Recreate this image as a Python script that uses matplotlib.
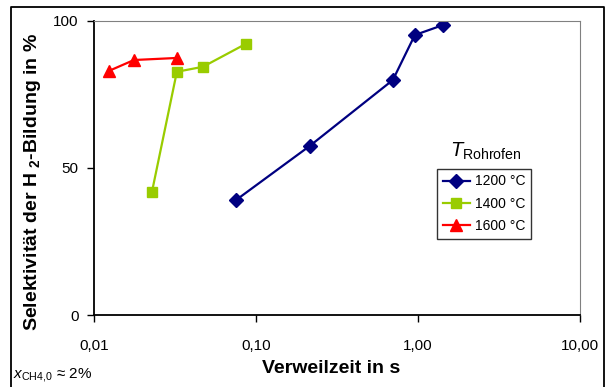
import matplotlib
matplotlib.use("Agg")
import matplotlib.pyplot as plt
from matplotlib.lines import Line2D
from matplotlib.ticker import NullLocator

plt.rcParams["font.family"] = ["Liberation Sans", "DejaVu Sans"]
plt.rcParams["mathtext.fontset"] = "custom"
plt.rcParams["mathtext.rm"] = "Liberation Sans"
plt.rcParams["mathtext.it"] = "Liberation Sans:italic"
plt.rcParams["mathtext.bf"] = "Liberation Sans:bold"

# residence time (s) and selectivity (%) per furnace temperature
t_1200 = [0.0754, 0.215, 0.70, 0.957, 1.43]
s_1200 = [39.1, 57.5, 79.9, 95.2, 98.6]
t_1400 = [0.0228, 0.0325, 0.0471, 0.0867]
s_1400 = [41.8, 82.7, 84.4, 92.2]
t_1600 = [0.01238, 0.01766, 0.0325]
s_1600 = [83.0, 86.7, 87.4]

x_ticks = [0.01, 0.1, 1.0, 10.0]
x_labels = ["0,01", "0,10", "1,00", "10,00"]
y_ticks = [0, 50, 100]

fig = plt.figure(figsize=(6.06, 3.87), dpi=100)
ax = fig.add_axes([0.155, 0.186, 0.802, 0.760])

ax.plot(t_1200, s_1200, color="#000080", marker="D", markersize=7, lw=1.6, label="1200 °C")
ax.plot(t_1400, s_1400, color="#99CC00", marker="s", markersize=7, lw=1.6, label="1400 °C")
ax.plot(t_1600, s_1600, color="#FF0000", marker="^", markersize=8, lw=1.6, label="1600 °C")

ax.set_xscale("log")
ax.set_xlim(0.01, 10)
ax.set_ylim(0, 100)
ax.set_xticks(x_ticks, x_labels)
ax.xaxis.set_minor_locator(NullLocator())
ax.set_yticks(y_ticks)
ax.tick_params(direction="out", length=5, width=1, labelsize=11)
ax.tick_params(axis="x", pad=12)
ax.tick_params(axis="y", pad=6)

for side in ("top", "right"):
    ax.spines[side].set_color("#808080")
for side in ("left", "bottom"):
    ax.spines[side].set_color("black")
    ax.spines[side].set_linewidth(1.3)

fig.text(0.546, 0.036, "Verweilzeit in s", fontsize=14, fontweight="bold",
         ha="center", va="baseline")
fig.text(0.053, 0.530, "Selektivität der H $_{\\mathbf{2}}$-Bildung in %", fontsize=14,
         fontweight="bold", rotation=90, ha="center", va="center")

leg = ax.legend(loc="upper left", bbox_to_anchor=(0.706, 0.497), borderaxespad=0,
                frameon=True, fancybox=False, edgecolor="black", fontsize=10,
                handlelength=2.0, handletextpad=0.3, borderpad=0.4, labelspacing=0.6)
leg.get_frame().set_linewidth(1.0)

ax.text(0.733, 0.537, "$T_{\\mathrm{Rohrofen}}$", transform=ax.transAxes,
        fontsize=14.5, ha="left", va="baseline")

fig.text(0.021, 0.023, "$x_{\\mathrm{CH4{,}0}}$ ≈ 2%", fontsize=11, ha="left", va="baseline")

# outer frame (left, top, right)
fig.add_artist(Line2D([0.018, 0.018, 0.9967, 0.9967], [0.0, 0.982, 0.982, 0.0],
                      transform=fig.transFigure, color="black", lw=1.3))

fig.savefig("out.png", dpi=100)
